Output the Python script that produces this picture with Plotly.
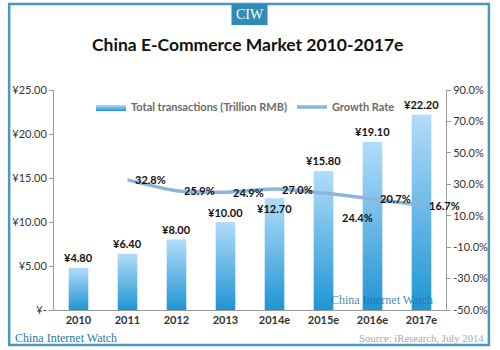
import plotly.graph_objects as go

categories = ["2010", "2011", "2012", "2013", "2014e", "2015e", "2016e", "2017e"]
transactions = [4.80, 6.40, 8.00, 10.00, 12.70, 15.80, 19.10, 22.20]
growth_years = ["2011", "2012", "2013", "2014e", "2015e", "2016e", "2017e"]
growth = [32.8, 25.9, 24.9, 27.0, 24.4, 20.7, 16.7]
left_ticks = [0, 5, 10, 15, 20, 25]
left_labels = ["¥-", "¥5.00", "¥10.00", "¥15.00", "¥20.00", "¥25.00"]
right_ticks = [-50, -30, -10, 10, 30, 50, 70, 90]
right_labels = ["-50.0%", "-30.0%", "-10.0%", "10.0%", "30.0%", "50.0%", "70.0%", "90.0%"]

W, H = 500, 350
ML, MR, MT, MB = 50, 48, 90, 40
PW, PH = W - ML - MR, H - MT - MB

def px(x):
    return (x - ML) / PW

def py(y):
    return (H - MB - y) / PH

BAR_HALF = 0.2
LIGHT = "#b3dcfa"
DARK = "#1f95d4"
LINE_COLOR = "#8fb4da"
FONT = "Lato"

fig = go.Figure()
idx = {c: i for i, c in enumerate(categories)}

for i, v in enumerate(transactions):
    fig.add_trace(go.Scatter(
        x=[i - BAR_HALF, i + BAR_HALF, i + BAR_HALF, i - BAR_HALF, i - BAR_HALF],
        y=[0, 0, v, v, 0],
        mode="lines", line=dict(width=0, color=DARK), fill="toself",
        fillcolor="#5ab3e8",
        fillgradient=dict(type="vertical", colorscale=[[0, DARK], [1, LIGHT]]),
        name="<b>Total transactions (Trillion RMB)</b>", legendgroup="t",
        showlegend=(i == 0), hoverinfo="skip", yaxis="y"))

for c, v in zip(categories, transactions):
    inside = (c == "2014e")
    fig.add_annotation(x=idx[c], y=v, xref="x", yref="y", text="<b>¥%.2f</b>" % v,
                       showarrow=False, xanchor="center", yanchor="middle",
                       yshift=-10 if inside else 10,
                       font=dict(family=FONT, size=11, color="#111"))

gx = [idx[c] for c in growth_years]
fig.add_trace(go.Scatter(
    x=gx, y=growth, mode="lines", line=dict(color=LINE_COLOR, width=3.5, shape="spline", smoothing=0.6),
    name="<b>Growth Rate</b>", yaxis="y2", hoverinfo="skip"))

for c, g in zip(growth_years, growth):
    special = (c == "2015e")
    fig.add_annotation(x=idx[c], y=g, yref="y2", xref="x", text="<b>%.1f%%</b>" % g,
                       showarrow=False, xanchor="left", yanchor="middle",
                       xshift=16 if special else 5, yshift=-24 if special else 0,
                       font=dict(family=FONT, size=11, color="#111"))

# frame and decorations
fig.add_shape(type="rect", xref="paper", yref="paper",
              x0=px(4), x1=px(496), y0=py(345), y1=py(4),
              line=dict(color="#4d96be", width=2.5), fillcolor="rgba(0,0,0,0)", layer="below")
fig.add_shape(type="rect", xref="paper", yref="paper",
              x0=px(232), x1=px(269), y0=py(25), y1=py(4),
              line=dict(width=0), fillcolor="#2f8cb9", layer="below")
fig.add_annotation(xref="paper", yref="paper", x=px(250.5), y=py(14.5), text="CIW",
                   showarrow=False, xanchor="center", yanchor="middle",
                   font=dict(family="Liberation Serif", size=14, color="white"))
fig.add_annotation(xref="paper", yref="paper", x=px(248.5), y=py(45),
                   text="<b>China E-Commerce Market 2010-2017e</b>", showarrow=False,
                   xanchor="center", yanchor="middle",
                   font=dict(family=FONT, size=17.5, color="#111"))
fig.add_annotation(xref="paper", yref="paper", x=px(386), y=py(300),
                   text="China Internet Watch", showarrow=False, xanchor="center", yanchor="middle",
                   font=dict(family="Liberation Serif", size=12, color="rgba(40,115,160,0.85)"))
fig.add_annotation(xref="paper", yref="paper", x=px(8), y=py(338), xanchor="left", yanchor="middle",
                   text="China Internet Watch", showarrow=False,
                   font=dict(family="Liberation Serif", size=12, color="#2a7ba3"))
fig.add_annotation(xref="paper", yref="paper", x=px(493), y=py(338), xanchor="right", yanchor="middle",
                   text="Source: iResearch, July 2014", showarrow=False,
                   font=dict(family="Liberation Serif", size=10.7, color="#a8a8a8"))

fig.update_layout(
    width=W, height=H, margin=dict(l=ML, r=MR, t=MT, b=MB),
    paper_bgcolor="white", plot_bgcolor="white",
    font=dict(family=FONT, size=11, color="#333"),
    xaxis=dict(range=[-0.5, len(categories) - 0.5], tickvals=list(range(len(categories))),
               ticktext=["<b>%s</b>" % c for c in categories], showgrid=False, zeroline=False,
               showline=True, linecolor="#9a9a9a", linewidth=1, ticks="",
               tickfont=dict(family=FONT, size=11, color="#333")),
    yaxis=dict(range=[0, 25], tickvals=left_ticks, ticktext=left_labels, showgrid=False,
               zeroline=False, showline=True, linecolor="#9a9a9a", linewidth=1,
               ticks="outside", ticklen=4, tickcolor="#9a9a9a",
               tickfont=dict(family=FONT, size=11, color="#333")),
    yaxis2=dict(range=[-50, 90], tickvals=right_ticks, ticktext=right_labels, overlaying="y",
                side="right", showgrid=False, zeroline=False, showline=True, linecolor="#9a9a9a",
                linewidth=1, ticks="outside", ticklen=4, tickcolor="#9a9a9a",
                tickfont=dict(family=FONT, size=11, color="#333")),
    legend=dict(orientation="h", x=px(88), y=py(107), xanchor="left", yanchor="middle",
                bgcolor="rgba(0,0,0,0)", font=dict(family=FONT, size=11, color="#6a6a6a"),
                itemwidth=30, tracegroupgap=0),
    showlegend=True,
)

fig.write_html("out.html")
